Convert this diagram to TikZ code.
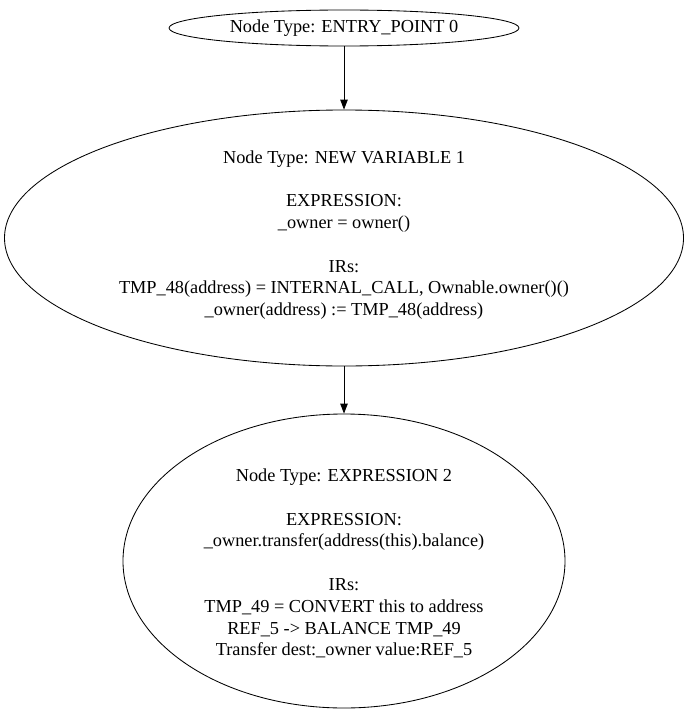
\documentclass[tikz,border=0pt]{standalone}
\usepackage{fontspec}
\setmainfont{Liberation Serif}
\usetikzlibrary{shapes.geometric,arrows.meta}
\begin{document}
\begin{tikzpicture}[x=1pt,y=-1pt,
  gvnode/.style={draw,ellipse,inner sep=0pt,line width=0.85pt},
  gvtext/.style={inner sep=0pt,align=center,font=\fontsize{18.3}{21.8}\selectfont},
  gvedge/.style={line width=0.85pt,-{Triangle[length=10pt,width=7.5pt]}}]
\useasboundingbox (0,0) rectangle (689,717);
\node[gvnode,minimum width=350pt,minimum height=36pt] (n0) at (344,28) {};
\node[gvnode,minimum width=679pt,minimum height=256pt] (n1) at (344,238) {};
\node[gvnode,minimum width=442pt,minimum height=294pt] (n2) at (344,561) {};
\node[gvtext] (t0) at ([yshift=-0.5pt]n0.center) {Node Type: ENTRY\_POINT 0};
\node[gvtext] (t1) at ([yshift=3pt]n1.center) {Node Type: NEW VARIABLE 1\\[21.8pt]EXPRESSION:\\\_owner = owner()\\[21.8pt]IRs:\\TMP\_48(address) = INTERNAL\_CALL, Ownable.owner()()\\\_owner(address) := TMP\_48(address)};
\node[gvtext] (t2) at ([yshift=-2.5pt]n2.center) {Node Type: EXPRESSION 2\\[21.8pt]EXPRESSION:\\\_owner.transfer(address(this).balance)\\[21.8pt]IRs:\\TMP\_49 = CONVERT this to address\\REF\_5 -> BALANCE TMP\_49\\Transfer dest:\_owner value:REF\_5};
\draw[gvedge] (n0) -- (n1);
\draw[gvedge] (n1) -- (n2);
\end{tikzpicture}
\end{document}
